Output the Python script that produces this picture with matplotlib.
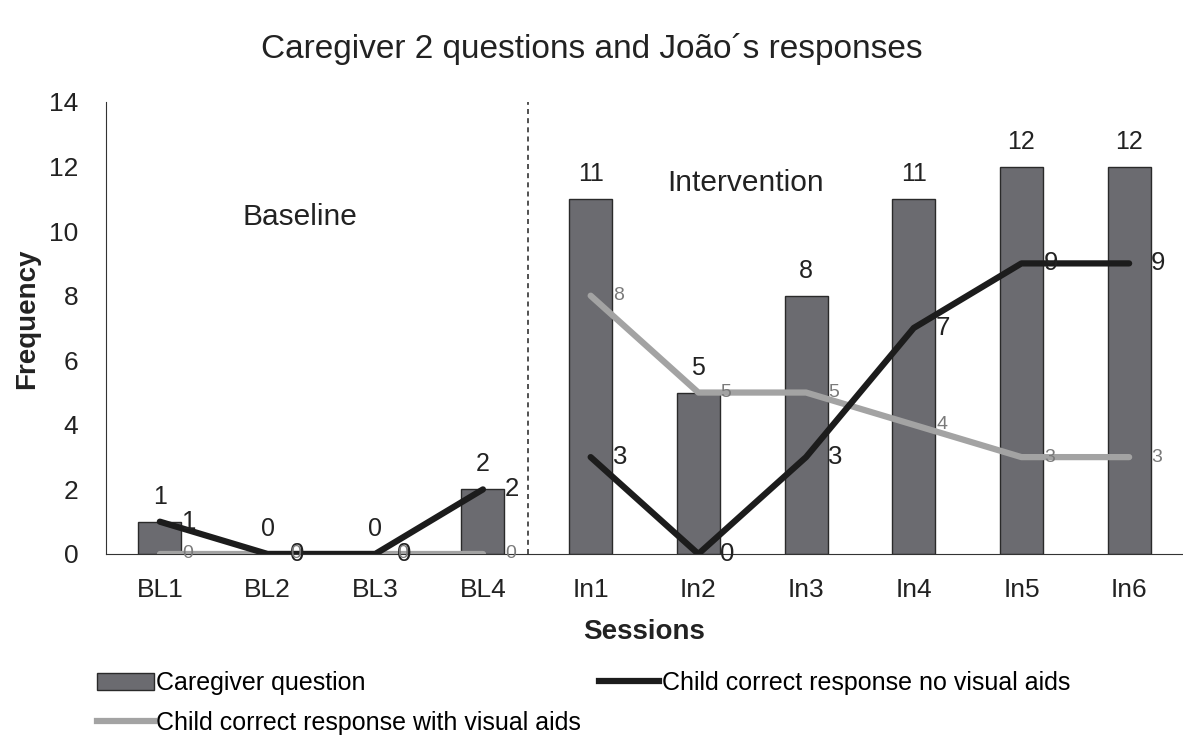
import numpy as np
import matplotlib.pyplot as plt
from matplotlib import font_manager
from matplotlib.patches import Patch
from matplotlib.lines import Line2D

plt.rcParams['font.family'] = ['Liberation Sans', 'DejaVu Sans']

sessions = ['BL1', 'BL2', 'BL3', 'BL4', 'In1', 'In2', 'In3', 'In4', 'In5', 'In6']
caregiver_q = [1, 0, 0, 2, 11, 5, 8, 11, 12, 12]
no_aids = [1, 0, 0, 2, 3, 0, 3, 7, 9, 9]
with_aids = [0, 0, 0, 0, 8, 5, 5, 4, 3, 3]

bar_color = '#6b6b70'
black = '#1c1c1c'
gray = '#a3a3a3'
txt = '#222222'

# legend font in the original is a condensed face
try:
    font_manager.findfont('Liberation Sans Narrow', fallback_to_default=False)
    leg_font = {'family': ['Liberation Sans Narrow', 'Liberation Sans'], 'size': 21.5}
except ValueError:
    leg_font = {'family': ['Liberation Sans'], 'size': 18}

fig = plt.figure(figsize=(11.83, 7.40), dpi=100)
ax = fig.add_axes([0.0896, 0.2514, 0.9104, 0.6108])

x = np.arange(len(sessions))
ax.bar(x, caregiver_q, width=0.40, color=bar_color, edgecolor='#2a2a2a', linewidth=1, zorder=2)
ax.plot(x[:4], with_aids[:4], color=gray, lw=4.5, solid_capstyle='round', zorder=3)
ax.plot(x[4:], with_aids[4:], color=gray, lw=4.5, solid_capstyle='round', zorder=3)
ax.plot(x[:4], no_aids[:4], color=black, lw=4.5, solid_capstyle='round', zorder=4)
ax.plot(x[4:], no_aids[4:], color=black, lw=4.5, solid_capstyle='round', zorder=4)

for xi, v in zip(x, caregiver_q):
    ax.annotate(str(v), (xi, v), xytext=(0, 18), textcoords='offset points',
                ha='center', va='center', fontsize=18, color=txt)
for xi, v in zip(x, no_aids):
    ax.annotate(str(v), (xi, v), xytext=(21, 0), textcoords='offset points',
                ha='center', va='center', fontsize=18.5, color=txt, zorder=5)
for xi, v in zip(x, with_aids):
    ax.annotate(str(v), (xi, v), xytext=(20, 0), textcoords='offset points',
                ha='center', va='center', fontsize=14, color='#7a7a7a', zorder=5)

ax.axvline(3.42, color='#333333', lw=1.2, ls=(0, (3, 2.5)))
ax.text(1.3, 10.43, 'Baseline', ha='center', va='center', fontsize=21.5, color=txt)
ax.text(5.44, 11.49, 'Intervention', ha='center', va='center', fontsize=21.5, color=txt)

ax.set_xlim(-0.5, 9.5)
ax.set_ylim(0, 14)
ax.set_yticks(range(0, 15, 2))
ax.set_xticks(x)
ax.set_xticklabels(sessions)
ax.tick_params(length=0, labelsize=19, colors=txt)
ax.tick_params(axis='x', pad=17)
ax.tick_params(axis='y', pad=20)
for s in ['top', 'right']:
    ax.spines[s].set_visible(False)
ax.spines['left'].set_color('#333333')
ax.spines['bottom'].set_color('#333333')

ax.set_xlabel('Sessions', fontsize=20, fontweight='bold', color=txt, va='center')
ax.xaxis.set_label_coords(0.4995, -0.1726)
ax.set_ylabel('Frequency', fontsize=20, fontweight='bold', color=txt, va='center')
ax.yaxis.set_label_coords(-0.0733, 0.52)
fig.text(0.5, 0.934, 'Caregiver 2 questions and João´s responses', ha='center', va='center',
         fontsize=24, color=txt)

h_bar = Patch(facecolor=bar_color, edgecolor='#2a2a2a', label='Caregiver question')
h_gray = Line2D([], [], color=gray, lw=4.5, label='Child correct response with visual aids')
h_black = Line2D([], [], color=black, lw=4.5, label='Child correct response no visual aids')
leg_kw = dict(frameon=False, handletextpad=0.1, borderpad=0, borderaxespad=0, prop=leg_font)
leg1 = fig.legend(handles=[h_bar, h_gray], loc='center left', bbox_to_anchor=(97 / 1183, 1 - 703 / 740),
                  handlelength=57 / (leg_font['size'] * 100 / 72), labelspacing=0.62, **leg_kw)
leg2 = fig.legend(handles=[h_black], loc='center left', bbox_to_anchor=(599 / 1183, 1 - 683 / 740),
                  handlelength=60 / (leg_font['size'] * 100 / 72), **leg_kw)

fig.savefig('out.png', dpi=100)
